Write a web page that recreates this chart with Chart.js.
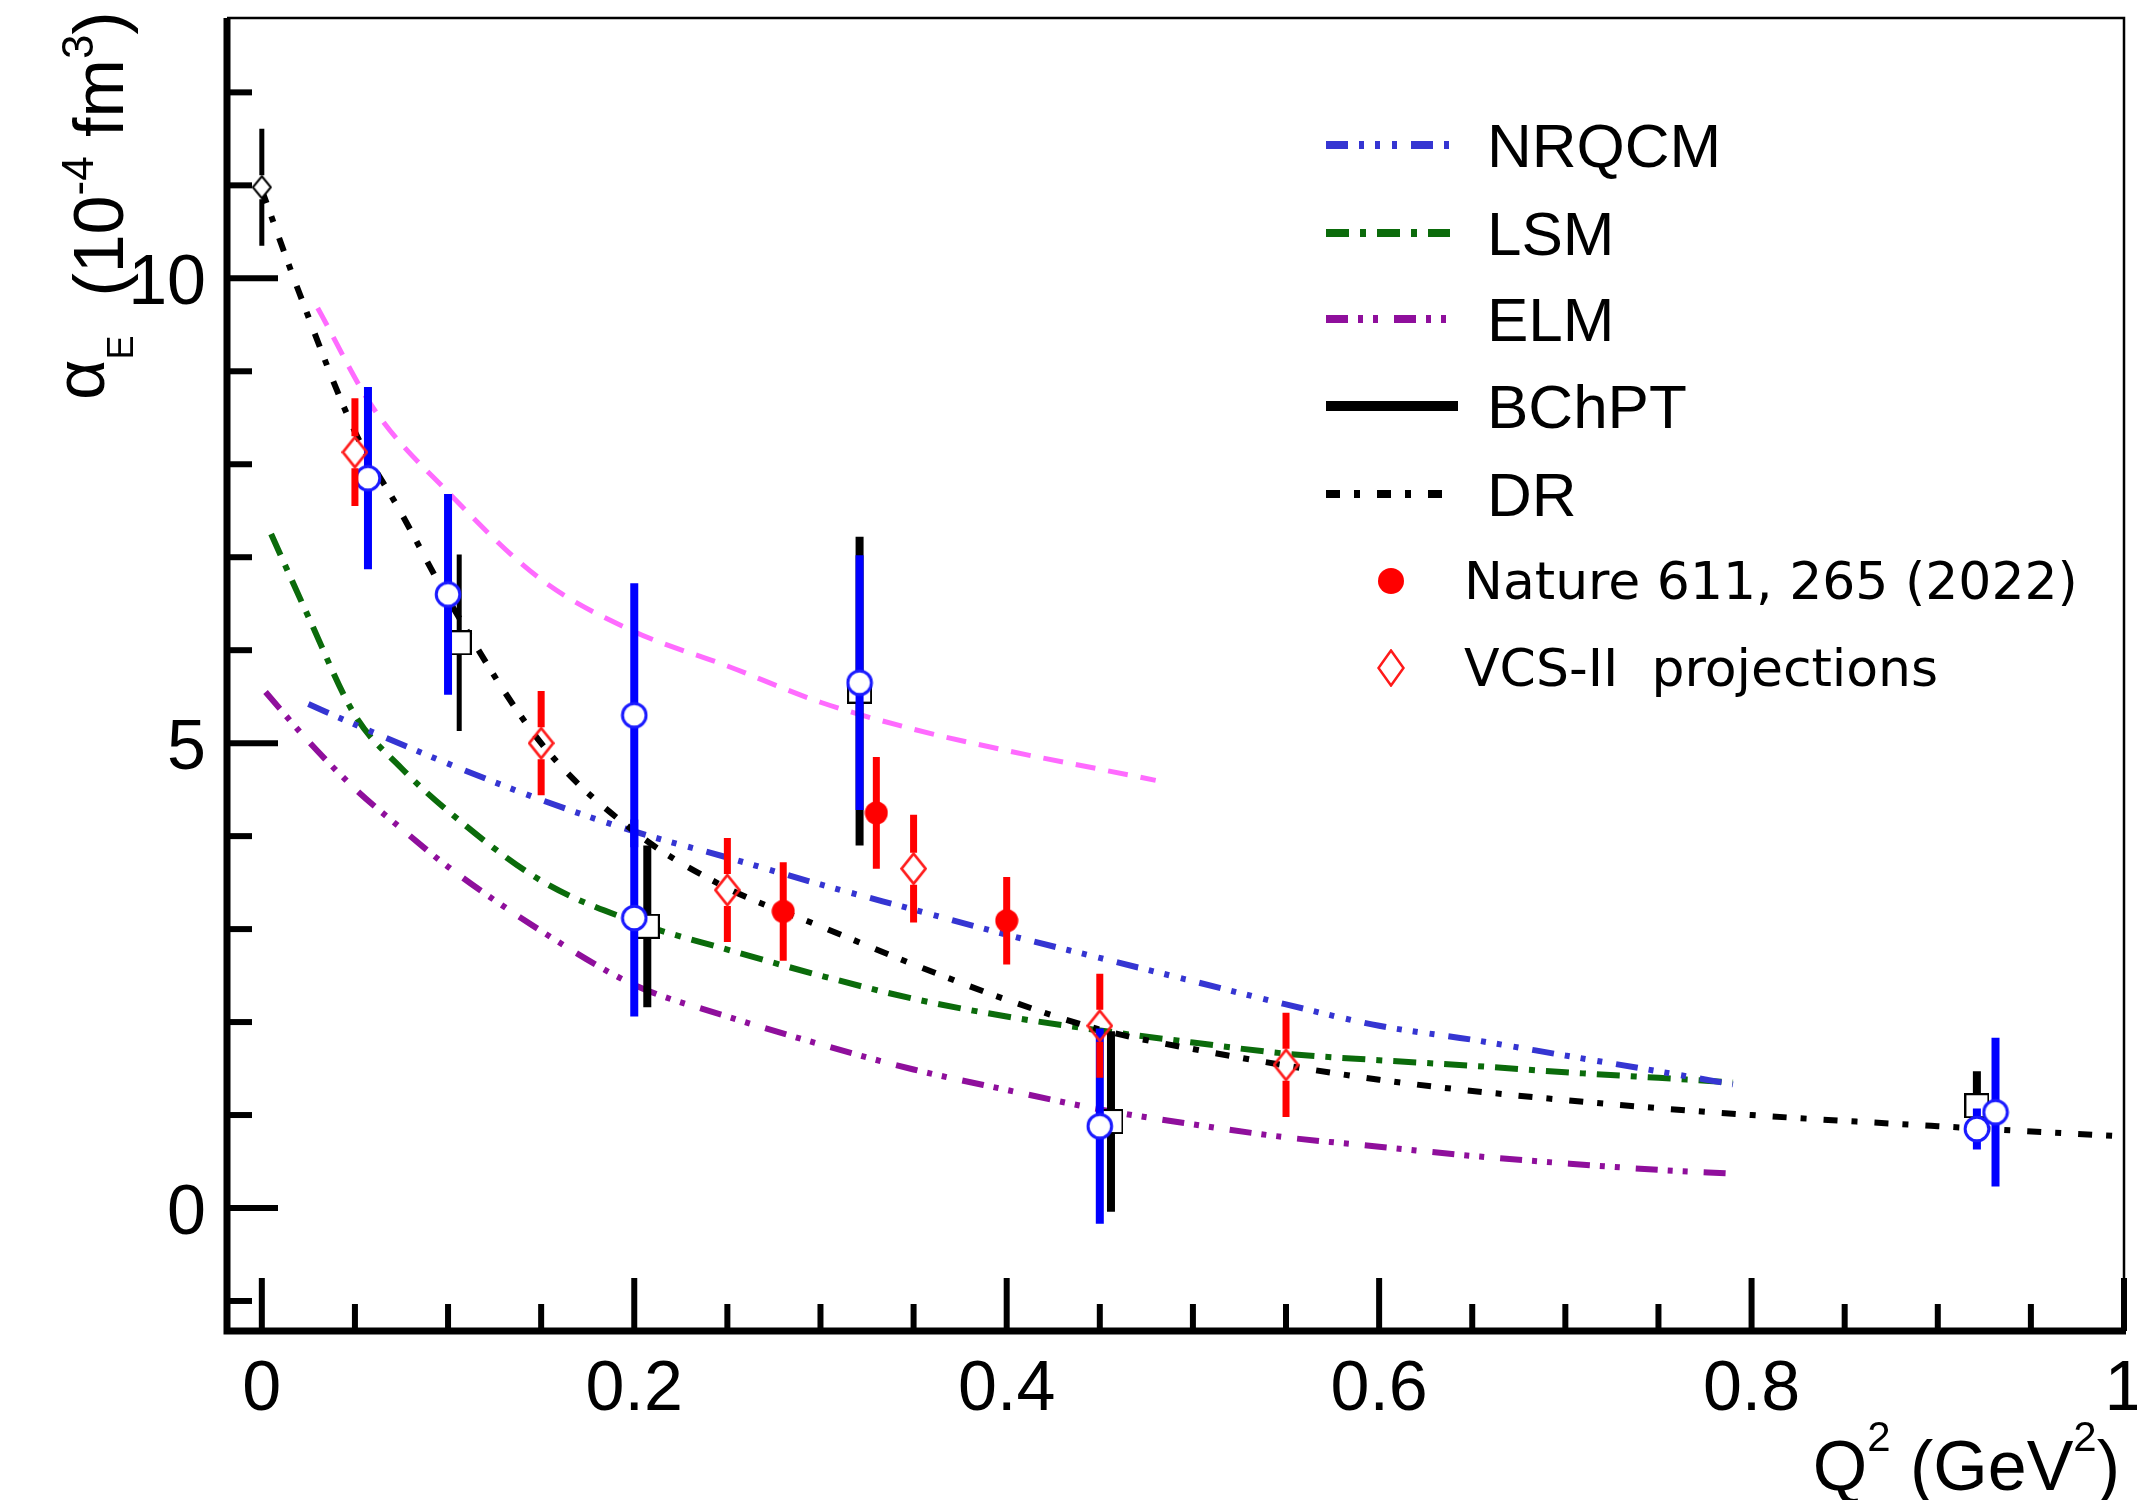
<!DOCTYPE html>
<html lang="en">
<head>
<meta charset="UTF-8">
<title>alpha_E vs Q2</title>
<script src="https://cdn.jsdelivr.net/npm/chart.js"></script>
<style>
  html, body { margin: 0; padding: 0; background: #fff; }
  #wrap { width: 2137px; height: 1500px; }
</style>
</head>
<body>
<div id="wrap"><canvas id="chart" width="2137" height="1500"></canvas></div>
<script>
// ---- values ----
const xTickValues = [0, 0.2, 0.4, 0.6, 0.8, 1];
const xTickLabels = ['0', '0.2', '0.4', '0.6', '0.8', '1'];
const yTickValues = [0, 5, 10];
const yTickLabels = ['0', '5', '10'];

// model curves
const nrqcmQ2 = [0.025, 0.05, 0.1, 0.15, 0.2, 0.25, 0.3, 0.35, 0.4, 0.45, 0.5, 0.55, 0.6, 0.65, 0.7, 0.75, 0.79];
const nrqcmAlpha = [5.42, 5.2, 4.78, 4.39, 4.05, 3.77, 3.48, 3.21, 2.94, 2.69, 2.44, 2.19, 1.96, 1.81, 1.64, 1.47, 1.33];

const lsmQ2 = [0.005, 0.025, 0.05, 0.075, 0.1, 0.15, 0.2, 0.25, 0.3, 0.35, 0.4, 0.45, 0.5, 0.55, 0.6, 0.65, 0.7, 0.75, 0.79];
const lsmAlpha = [7.25, 6.36, 5.3, 4.73, 4.27, 3.52, 3.08, 2.78, 2.5, 2.25, 2.06, 1.91, 1.78, 1.66, 1.59, 1.53, 1.46, 1.4, 1.35];

const elmQ2 = [0.002, 0.025, 0.05, 0.075, 0.1, 0.15, 0.2, 0.25, 0.3, 0.35, 0.4, 0.45, 0.5, 0.55, 0.6, 0.65, 0.7, 0.75, 0.79];
const elmAlpha = [5.55, 5.02, 4.51, 4.08, 3.67, 2.98, 2.4, 2.06, 1.76, 1.49, 1.27, 1.06, 0.9, 0.76, 0.66, 0.56, 0.48, 0.41, 0.37];

const drQ2 = [0, 0.02, 0.05, 0.075, 0.1, 0.15, 0.2, 0.25, 0.3, 0.35, 0.4, 0.45, 0.5, 0.6, 0.7, 0.8, 0.9, 1.0];
const drAlpha = [10.95, 9.85, 8.35, 7.47, 6.55, 5.0, 4.05, 3.44, 3.03, 2.62, 2.24, 1.92, 1.71, 1.38, 1.16, 1.0, 0.88, 0.77];

const magentaQ2 = [0.03, 0.06, 0.1, 0.15, 0.2, 0.25, 0.3, 0.35, 0.4, 0.45, 0.48];
const magentaAlpha = [9.68, 8.6, 7.7, 6.76, 6.2, 5.83, 5.44, 5.15, 4.92, 4.72, 4.6];

// measurements
const natureQ2 = [0.28, 0.33, 0.40];
const natureAlpha = [3.19, 4.25, 3.09];
const natureErr = [0.53, 0.60, 0.47];

const vcsQ2 = [0.05, 0.15, 0.25, 0.35, 0.45, 0.55];
const vcsAlpha = [8.13, 5.0, 3.42, 3.65, 1.96, 1.54];
const vcsErr = [0.58, 0.56, 0.56, 0.58, 0.56, 0.56];

const blueQ2 = [0.057, 0.100, 0.200, 0.200, 0.321, 0.450, 0.921, 0.931];
const blueAlpha = [7.85, 6.60, 5.30, 3.12, 5.65, 0.88, 0.85, 1.03];
const blueErr = [0.98, 1.08, 1.42, 1.06, 1.37, 1.05, 0.22, 0.80];

const blackThinQ2 = [0, 0.106];
const blackThinAlpha = [10.98, 6.08];
const blackThinErr = [0.63, 0.95];

const blackQ2 = [0.207, 0.321, 0.456, 0.921];
const blackAlpha = [3.03, 5.56, 0.93, 1.10];
const blackErr = [0.87, 1.66, 0.97, 0.37];

const legendLabels = ['NRQCM', 'LSM', 'ELM', 'BChPT', 'DR', 'Nature 611, 265 (2022)', 'VCS-II  projections'];

// ---- helpers ----
const SANS = '"Liberation Sans", Arial, Helvetica, sans-serif';
const COMIC = '"DejaVu Sans", sans-serif';

function pts(xs, ys) {
    return xs.map((x, i) => ({ x: x, y: ys[i] }));
}

function marker(w, h, paint) {
    const c = document.createElement('canvas');
    c.width = w;
    c.height = h;
    paint(c.getContext('2d'), w, h);
    return c;
}

function diamondPath(g, w, h, lw) {
    g.beginPath();
    g.moveTo(w / 2, lw);
    g.lineTo(w - lw, h / 2);
    g.lineTo(w / 2, h - lw);
    g.lineTo(lw, h / 2);
    g.closePath();
}

const redDiamond = marker(27, 33, (g, w, h) => {
    diamondPath(g, w, h, 1.5);
    g.lineWidth = 2.8;
    g.strokeStyle = '#ff1a1a';
    g.stroke();
});
const redDiamondBig = marker(28, 38, (g, w, h) => {
    diamondPath(g, w, h, 1.5);
    g.lineWidth = 2.5;
    g.strokeStyle = '#ff1a1a';
    g.stroke();
});
const blackDiamond = marker(21, 25, (g, w, h) => {
    diamondPath(g, w, h, 1.5);
    g.fillStyle = '#fff';
    g.fill();
    g.lineWidth = 2;
    g.strokeStyle = '#000';
    g.stroke();
});
const blackSquare = marker(25, 25, (g, w, h) => {
    g.fillStyle = '#fff';
    g.fillRect(1, 1, w - 2, h - 2);
    g.lineWidth = 2;
    g.strokeStyle = '#000';
    g.strokeRect(1, 1, w - 2, h - 2);
});
const blueCircle = marker(28, 28, (g, w, h) => {
    g.beginPath();
    g.arc(w / 2, h / 2, 11.8, 0, Math.PI * 2);
    g.fillStyle = '#fff';
    g.fill();
    g.lineWidth = 3;
    g.strokeStyle = '#1a1aff';
    g.stroke();
});
const redDot = marker(24, 24, (g, w, h) => {
    g.beginPath();
    g.arc(w / 2, h / 2, 11.5, 0, Math.PI * 2);
    g.fillStyle = '#ff0000';
    g.fill();
});
const redDotBig = marker(28, 28, (g, w, h) => {
    g.beginPath();
    g.arc(w / 2, h / 2, 13, 0, Math.PI * 2);
    g.fillStyle = '#ff0000';
    g.fill();
});

// draws vertical error bars under each point dataset
const errorBars = {
    id: 'errorBars',
    beforeDatasetDraw(chart, args) {
        const ds = chart.data.datasets[args.index];
        if (!ds.errors) return;
        const { ctx, chartArea } = chart;
        const x = chart.scales.x, y = chart.scales.y;
        ctx.save();
        ctx.beginPath();
        ctx.rect(chartArea.left, chartArea.top, chartArea.right - chartArea.left, chartArea.bottom - chartArea.top);
        ctx.clip();
        ctx.strokeStyle = ds.barColor;
        ctx.lineWidth = ds.barWidth;
        ds.data.forEach((p, i) => {
            const px = x.getPixelForValue(p.x);
            const py = y.getPixelForValue(p.y);
            const top = y.getPixelForValue(p.y + ds.errors[i]);
            const bot = y.getPixelForValue(p.y - ds.errors[i]);
            const gap = ds.barGap || 0;
            ctx.beginPath();
            ctx.moveTo(px, top);
            ctx.lineTo(px, py - gap);
            ctx.moveTo(px, py + gap);
            ctx.lineTo(px, bot);
            ctx.stroke();
        });
        ctx.restore();
    }
};

// rich text: parts are [text, fontPx, baselineShift]
function richWidth(ctx, parts) {
    let w = 0;
    parts.forEach(p => {
        ctx.font = p[1] + 'px ' + SANS;
        w += ctx.measureText(p[0]).width;
    });
    return w;
}
function drawRich(ctx, parts, x0, y0) {
    let cx = x0;
    parts.forEach(p => {
        ctx.font = p[1] + 'px ' + SANS;
        ctx.fillText(p[0], cx, y0 + p[2]);
        cx += ctx.measureText(p[0]).width;
    });
}

// ROOT-style frame: thick left/bottom axes with inward ticks, thin top/right
const frameAxes = {
    id: 'frameAxes',
    afterDatasetsDraw(chart) {
        const { ctx, chartArea: a } = chart;
        const x = chart.scales.x, y = chart.scales.y;
        ctx.save();
        ctx.strokeStyle = '#000';
        ctx.lineCap = 'butt';

        // thin top and right frame
        ctx.lineWidth = 2.5;
        ctx.beginPath();
        ctx.moveTo(a.left, a.top);
        ctx.lineTo(a.right, a.top);
        ctx.lineTo(a.right, a.bottom);
        ctx.stroke();

        // x ticks every 0.05
        ctx.lineWidth = 6;
        for (let k = 0; k <= 20; k++) {
            const px = x.getPixelForValue(k * 0.05);
            const len = (k % 4 === 0) ? 53 : 27;
            ctx.beginPath();
            ctx.moveTo(px, a.bottom);
            ctx.lineTo(px, a.bottom - len);
            ctx.stroke();
        }
        // y ticks every 1
        for (let v = -1; v <= 12; v++) {
            const py = y.getPixelForValue(v);
            const len = (v % 5 === 0) ? 51 : 25;
            ctx.beginPath();
            ctx.moveTo(a.left, py);
            ctx.lineTo(a.left + len, py);
            ctx.stroke();
        }

        // thick axes
        ctx.lineWidth = 7;
        ctx.beginPath();
        ctx.moveTo(a.left, a.top);
        ctx.lineTo(a.left, a.bottom);
        ctx.lineTo(a.right + 2, a.bottom);
        ctx.stroke();

        // tick labels
        ctx.fillStyle = '#000';
        ctx.font = '70px ' + SANS;
        ctx.textAlign = 'center';
        ctx.textBaseline = 'alphabetic';
        xTickValues.forEach((v, i) => {
            ctx.fillText(xTickLabels[i], x.getPixelForValue(v), a.bottom + 79);
        });
        ctx.textAlign = 'right';
        yTickValues.forEach((v, i) => {
            ctx.fillText(yTickLabels[i], a.left - 21, y.getPixelForValue(v) + 26);
        });

        // axis titles
        ctx.textAlign = 'left';
        const xt = [['Q', 70, 0], ['2', 42, -39], [' (GeV', 70, 0], ['2', 42, -39], [')', 70, 0]];
        drawRich(ctx, xt, 2120 - richWidth(ctx, xt), 1490);

        ctx.save();
        ctx.translate(123, 400);
        ctx.rotate(-Math.PI / 2);
        drawRich(ctx, [['α', 70, -19], ['E', 36, 10], ['  (10', 70, 0], ['-4', 44, -30], [' fm', 70, 0], ['3', 44, -30], [')', 70, 0]], 0, 0);
        ctx.restore();

        ctx.restore();
    }
};

// legend drawn in the upper right corner, ROOT style
const legendRowY = [145, 233, 319, 406, 494, 581, 668];
const cornerLegend = {
    id: 'cornerLegend',
    afterDraw(chart) {
        const ctx = chart.ctx;
        ctx.save();
        ctx.fillStyle = '#000';
        ctx.textAlign = 'left';
        ctx.textBaseline = 'alphabetic';
        legendLabels.forEach((label, i) => {
            const ds = chart.data.datasets.find(d => d.label === label);
            const rowY = legendRowY[i];
            if (ds.showLine) {
                ctx.save();
                ctx.strokeStyle = ds.borderColor;
                ctx.lineWidth = ds.legendWidth;
                ctx.setLineDash(ds.borderDash || []);
                ctx.beginPath();
                ctx.moveTo(1326, rowY);
                ctx.lineTo(ds.borderDash ? 1450 : 1458, rowY);
                ctx.stroke();
                ctx.restore();
                ctx.font = '62px ' + SANS;
                ctx.fillText(label, 1487, rowY + 22);
            } else {
                const m = ds.legendMarker;
                ctx.drawImage(m, 1391 - m.width / 2, rowY - m.height / 2);
                ctx.font = '52px ' + COMIC;
                ctx.fillText(label, 1464, rowY + 18);
            }
        });
        ctx.restore();
    }
};

function curve(label, xs, ys, color, dash, width, order) {
    return {
        label: label,
        data: pts(xs, ys),
        showLine: true,
        borderColor: color,
        borderWidth: width,
        legendWidth: width + 2,
        borderDash: dash,
        borderCapStyle: 'butt',
        cubicInterpolationMode: 'monotone',
        pointRadius: 0,
        order: order
    };
}

function points(label, xs, ys, errs, style, barColor, barWidth, gap, order) {
    return {
        label: label,
        data: pts(xs, ys),
        errors: errs,
        barColor: barColor,
        barWidth: barWidth,
        barGap: gap,
        pointStyle: style,
        pointRadius: 12,
        showLine: false,
        order: order
    };
}

const natureSet = points('Nature 611, 265 (2022)', natureQ2, natureAlpha, natureErr, redDot, '#ff0000', 7, 0, 1);
natureSet.legendMarker = redDotBig;
const vcsSet = points('VCS-II  projections', vcsQ2, vcsAlpha, vcsErr, redDiamond, '#ff0000', 7, 16, 2);
vcsSet.legendMarker = redDiamondBig;

const datasets = [
    natureSet,
    vcsSet,
    points('earlier (blue)', blueQ2, blueAlpha, blueErr, blueCircle, '#0000ff', 8, 0, 3),
    points('earlier (black)', blackQ2, blackAlpha, blackErr, blackSquare, '#000', 8, 0, 4),
    points('earlier (black, thin)', blackThinQ2, blackThinAlpha, blackThinErr, [blackDiamond, blackSquare], '#000', 5, 12, 4),
    curve('DR', drQ2, drAlpha, '#000', [14, 14, 6, 17], 6, 5),
    curve('NRQCM', nrqcmQ2, nrqcmAlpha, '#3535d2', [22, 11, 5, 11, 5, 12, 5, 14], 6, 6),
    curve('LSM', lsmQ2, lsmAlpha, '#0b6b0b', [23, 11, 6, 11], 6, 7),
    curve('ELM', elmQ2, elmAlpha, '#8f0f9c', [22, 10, 5, 10, 5, 16], 6, 8),
    curve('magenta', magentaQ2, magentaAlpha, '#ff6bff', [20, 13], 5, 9),
    { label: 'BChPT', data: [], showLine: true, borderColor: '#000', borderWidth: 8, legendWidth: 10, pointRadius: 0, order: 10 }
];

new Chart(document.getElementById('chart'), {
    type: 'scatter',
    data: { datasets: datasets },
    options: {
        responsive: false,
        animation: false,
        devicePixelRatio: 1,
        layout: { padding: { left: 227, right: 4, top: 18, bottom: 169 } },
        scales: {
            x: { type: 'linear', min: -0.0187, max: 1.0, display: false },
            y: { type: 'linear', min: -1.323, max: 12.8, display: false }
        },
        plugins: {
            legend: { display: false },
            tooltip: { enabled: false }
        }
    },
    plugins: [errorBars, frameAxes, cornerLegend]
});
</script>
</body>
</html>
